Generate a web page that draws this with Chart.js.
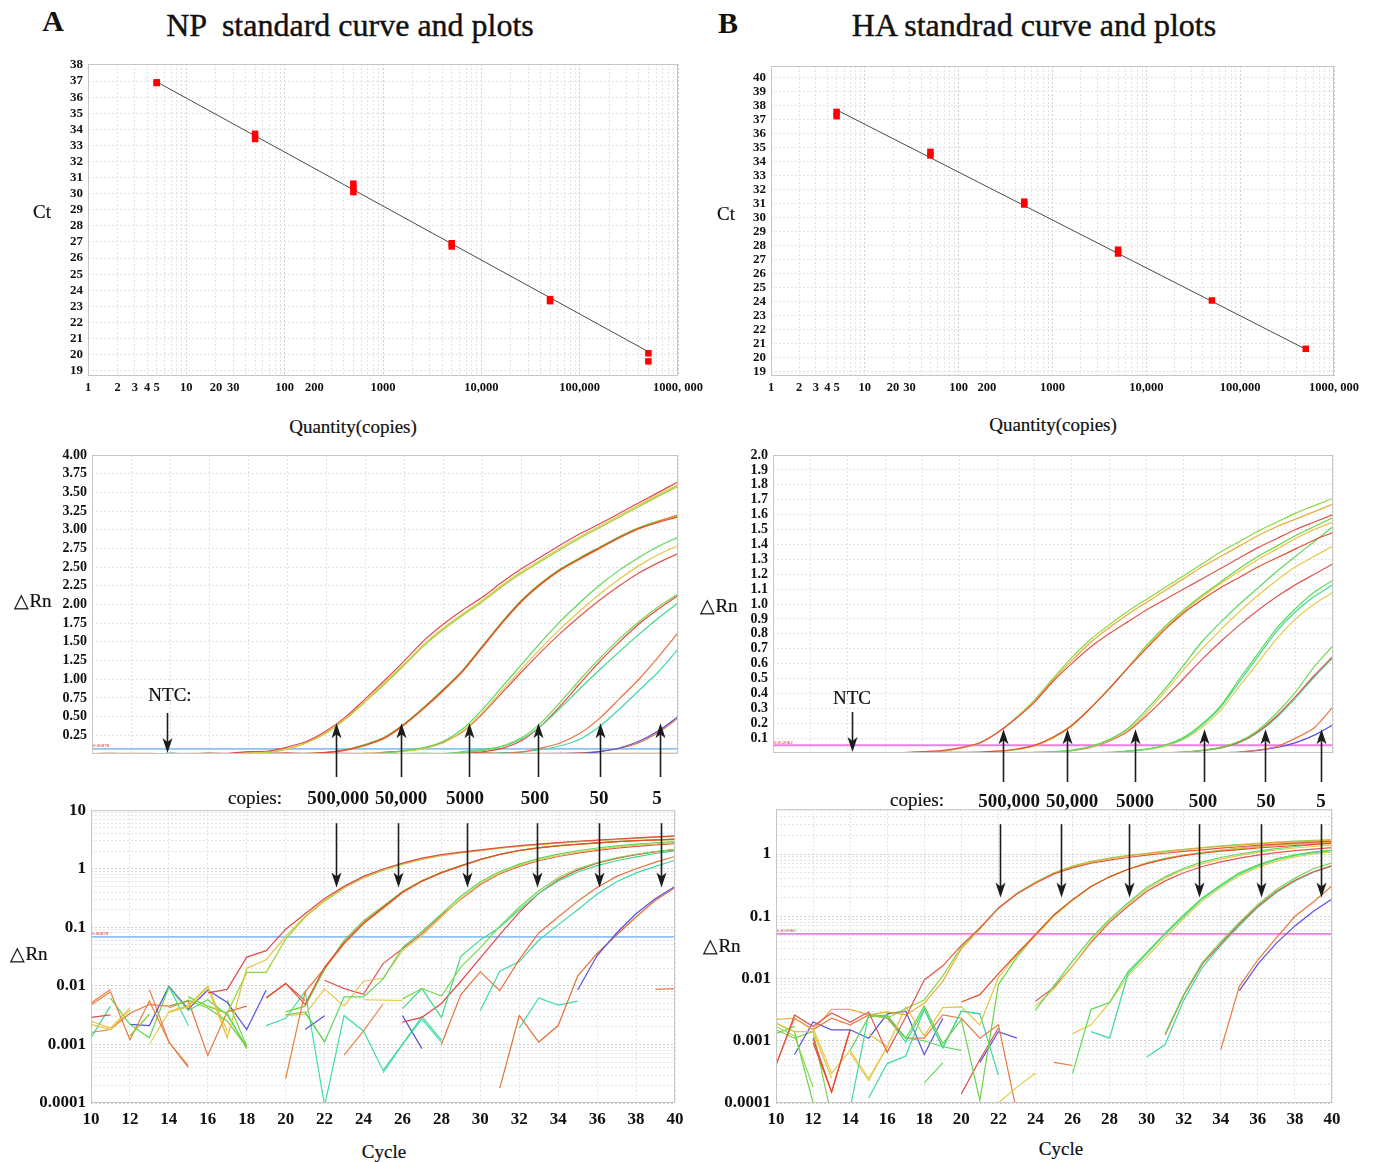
<!DOCTYPE html>
<html>
<head>
<meta charset="utf-8">
<script src="https://cdn.jsdelivr.net/npm/chart.js@4.4.1/dist/chart.umd.min.js"></script>
<style>
  html, body { margin: 0; padding: 0; background: #fff; }
  #page { position: relative; width: 1384px; height: 1162px; overflow: hidden; font-family: "Liberation Serif", "Times New Roman", serif; color: #111; }
  canvas { position: absolute; }
  .t { position: absolute; transform: translate(-50%, -50%); white-space: pre; line-height: 1; }
  .big { font-size: 32px; -webkit-text-stroke: 0.4px #111; }
  .letter { font-size: 30px; font-weight: bold; }
  .ax { font-size: 19px; -webkit-text-stroke: 0.2px #111; }
  .num { font-size: 19px; font-weight: bold; }
</style>
</head>
<body>
<div id="page">
  <canvas id="npStd"></canvas>
  <canvas id="haStd"></canvas>
  <canvas id="npLin"></canvas>
  <canvas id="haLin"></canvas>
  <canvas id="npLog"></canvas>
  <canvas id="haLog"></canvas>

  <div class="t letter" style="left:53px;top:21px">A</div>
  <div class="t big" style="left:350px;top:25px">NP  standard curve and plots</div>
  <div class="t letter" style="left:728px;top:23px">B</div>
  <div class="t big" style="left:1034px;top:25px">HA standrad curve and plots</div>

  <div class="t ax" style="left:42px;top:211px">Ct</div>
  <div class="t ax" style="left:353px;top:426px">Quantity(copies)</div>
  <div class="t ax" style="left:726px;top:213px">Ct</div>
  <div class="t ax" style="left:1053px;top:424px">Quantity(copies)</div>

  <div class="t ax" style="left:33px;top:600px">△Rn</div>
  <div class="t ax" style="left:719px;top:605px">△Rn</div>
  <div class="t ax" style="left:29px;top:953px">△Rn</div>
  <div class="t ax" style="left:722px;top:945px">△Rn</div>
  <div class="t ax" style="left:384px;top:1151px">Cycle</div>
  <div class="t ax" style="left:1061px;top:1148px">Cycle</div>

  <div class="t ax" style="left:170px;top:694px">NTC:</div>
  <div class="t ax" style="left:852px;top:697px">NTC</div>

  <div class="t ax" style="left:255px;top:797px">copies:</div>
  <div class="t ax" style="left:917px;top:799px">copies:</div>
  <div id="npCopies"></div>
  <div id="haCopies"></div>
</div>
<script>
const FONT = '"Liberation Serif", "Times New Roman", serif'
const _ = null

// ---- standard curves ----
const npQty = [5, 5, 50, 50, 500, 500, 500, 5000, 5000, 50000, 50000, 500000, 500000]
const npCt = [36.92, 36.88, 33.72, 33.4, 30.62, 30.35, 30.1, 26.92, 26.72, 23.45, 23.32, 20.08, 19.58]
const npFitQty = [5, 500000]
const npFitCt = [36.95, 20.18]

const haQty = [5, 5, 50, 50, 500, 500, 5000, 5000, 50000, 500000]
const haCt = [37.55, 37.25, 34.7, 34.45, 31.15, 30.95, 27.72, 27.45, 24.1, 20.65]
const haFitQty = [5, 500000]
const haFitCt = [37.7, 20.62]

const qtyTickValues = [1, 2, 3, 4, 5, 10, 20, 30, 100, 200, 1000, 10000, 100000, 1000000]
const qtyTickLabels = ['1', '2', '3', '4', '5', '10', '20', '30', '100', '200', '1000', '10,000', '100,000', '1000, 000']
const npCtTicks = [19, 20, 21, 22, 23, 24, 25, 26, 27, 28, 29, 30, 31, 32, 33, 34, 35, 36, 37, 38]
const haCtTicks = [19, 20, 21, 22, 23, 24, 25, 26, 27, 28, 29, 30, 31, 32, 33, 34, 35, 36, 37, 38, 39, 40]

// ---- amplification plots ----
const cycles = [10, 11, 12, 13, 14, 15, 16, 17, 18, 19, 20, 21, 22, 23, 24, 25, 26, 27, 28, 29, 30, 31, 32, 33, 34, 35, 36, 37, 38, 39, 40]
const npRnTicks = [0.25, 0.5, 0.75, 1, 1.25, 1.5, 1.75, 2, 2.25, 2.5, 2.75, 3, 3.25, 3.5, 3.75, 4]
const haRnTicks = [0.1, 0.2, 0.3, 0.4, 0.5, 0.6, 0.7, 0.8, 0.9, 1, 1.1, 1.2, 1.3, 1.4, 1.5, 1.6, 1.7, 1.8, 1.9, 2]
const logTickValues = [0.0001, 0.001, 0.01, 0.1, 1, 10]
const logTickLabels = ['0.0001', '0.001', '0.01', '0.1', '1', '10']

const copyLabels = ['500,000', '50,000', '5000', '500', '50', '5']
const npThreshold = 0.06878
const haThreshold = 0.052062
const npArrowCycles = [22.5, 25.83, 29.3, 32.84, 36.0, 39.08]
const haArrowCycles = [22.3, 25.76, 29.37, 33.09, 36.36, 39.37]
const npLogArrowCycles = [22.56, 25.75, 29.3, 32.9, 36.1, 39.3]
const haLogArrowCycles = [22.07, 25.36, 29.07, 32.8, 36.15, 39.38]
const npNtcCycle = 13.84
const haNtcCycle = 14.23

// NP, one array per well, cycles 10..40 (null = no value on log scale)
const npR1 = [.0029, .0032, _, _, _, _, .0076, .0087, .031, .04,
  .093, .17, .31, .5, .74, .99, 1.25, 1.52, 1.74, 1.93,
  2.1, 2.3, 2.48, 2.64, 2.8, 2.95, 3.08, 3.22, 3.36, 3.5, 3.64]
const npY1 = [.0022, .0018, .0039, _, .0036, .0044, .0095, .0013, .02, .028,
  .07, .155, .29, .48, .71, .96, 1.21, 1.47, 1.69, 1.88,
  2.06, 2.26, 2.44, 2.6, 2.76, 2.91, 3.05, 3.19, 3.33, 3.47, 3.6]
const npG1 = [_, _, .0014, .0033, _, .0066, .0045, .0034, .017, .017,
  .063, .15, .28, .47, .7, .94, 1.19, 1.45, 1.67, 1.86,
  2.04, 2.24, 2.42, 2.58, 2.74, 2.89, 3.03, 3.17, 3.31, 3.45, 3.58]
const npR2 = [_, _, _, _, _, _, _, _, _, .0062,
  .011, .0048, .021, .055, .12, .22, .4, .62, .86, 1.12,
  1.44, 1.76, 2.05, 2.28, 2.47, 2.62, 2.76, 2.9, 3.02, 3.1, 3.17]
const npO2 = [.0047, .0079, .0012, .0055, .0011, .0004, _, _, _, _,
  .00026, .0079, .02, .052, .115, .21, .39, .61, .85, 1.11,
  1.43, 1.75, 2.04, 2.27, 2.46, 2.61, 2.75, 2.89, 3.01, 3.11, 3.2]
const npG2 = [_, _, .0036, _, .0042, .0057, .0042, .0025, .0009, _,
  .0036, .0045, .019, .06, .13, .23, .41, .63, .87, 1.13,
  1.45, 1.77, 2.06, 2.29, 2.48, 2.63, 2.77, 2.91, 3.03, 3.12, 3.18]
const npG3 = [_, .0062, .0022, .0013, .0095, .0038, .0058, .0032, .0009, _,
  _, .0035, .0011, .0065, .0065, .013, .045, .085, .17, .34,
  .6, .9, 1.2, 1.5, 1.78, 2.03, 2.26, 2.46, 2.63, 2.78, 2.9]
const npY3 = [.0025, .0019, .0042, _, .0035, .0045, .0098, .0017, _, _,
  .0031, .0033, .0088, .0045, .012, .0135, .04, .072, .15, .31,
  .56, .85, 1.14, 1.42, 1.68, 1.92, 2.14, 2.34, 2.52, 2.67, 2.79]
const npR3 = [_, _, _, _, _, _, _, _, _, _,
  _, _, .0125, .009, .0072, .024, .043, .078, .16, .3,
  .54, .82, 1.1, 1.37, 1.62, 1.85, 2.06, 2.25, 2.42, 2.56, 2.68]
const npG4 = [_, _, _, _, _, .0065, .0045, .0034, .00084, _,
  _, _, _, _, _, _, .006, .009, .0067, .021,
  .045, .105, .22, .42, .7, 1.0, 1.28, 1.54, 1.77, 1.97, 2.14]
const npT4 = [.0013, .0045, _, _, _, _, _, _, _, _,
  _, _, _, _, _, _, .0041, .009, .0029, .032,
  .061, .1, .2, .38, .62, .88, 1.13, 1.37, 1.6, 1.82, 2.02]
const npR4 = [_, _, _, _, _, _, _, _, _, _,
  _, _, _, _, _, _, .0024, .0029, .005, .012,
  .03, .075, .18, .38, .65, .95, 1.24, 1.5, 1.74, 1.94, 2.12]
const npO5 = [.0016, .0018, .0034, .0048, .0045, .0055, .00065, .0036, .0045, _,
  _, _, _, _, _, _, _, _, .001, .0071,
  .0174, .0083, .028, .08, .15, .28, .48, .74, 1.0, 1.3, 1.62]
const npT5 = [_, _, _, _, _, _, _, _, _, _,
  _, _, _, _, _, .00033, .001, .0027, .0011, _,
  .0038, .0178, .026, .06, .11, .2, .37, .6, .85, 1.1, 1.4]
const npB6 = [_, _, .0022, .0021, .0098, .004, .0085, .0052, .0018, .0085,
  _, .0018, .0031, _, _, _, .0031, .00085, _, _,
  _, _, _, _, _, .0085, .033, .08, .17, .31, .5]
const npO6 = [_, _, _, _, _, _, _, _, _, _,
  _, _, _, _, _, _, _, _, _, _,
  _, .00018, .0031, .0011, .0021, .0147, .036, .074, .15, .29, .48]
const npN1 = [.0051, .0087, _, .0087, .0011, .00043, _, _, _, _,
  _, _, _, .00066, .0017, .0049, _, _, _, _,
  _, _, _, _, _, _, _, _, _, .0087, .009]
const npN2 = [_, _, _, _, .0098, .0021, _, _, _, .0021,
  .0028, .0081, .00009, .0031, .0017, .00036, .001, .003, .0012, _,
  _, _, .0019, .0062, .0047, .0055, _, _, _, _, _]
const npN3 = [_, _, _, .001, .0036, .0047, .0098, .0013, _, _,
  _, _, _, _, .0058, .0057, .0056, _, _, _,
  _, _, _, _, _, _, _, _, _, _, _]
const npN4 = [_, _, .0014, .0033, _, _, _, .0058, .00093, _,
  .0032, .0036, .0011, _, _, _, _, _, _, _,
  _, _, _, _, _, _, _, _, _, _, _]
const npN5 = [_, _, _, _, _, _, _, _, _, .0063,
  .011, .0056, _, _, _, _, _, _, _, _,
  _, _, _, _, _, _, _, _, _, _, _]

// HA wells
const haR1 = [.0004, .0026, .0017, .0028, .002, .0029, .00065, .0024, .0095, .016,
  .034, .065, .135, .23, .34, .48, .6, .71, .8, .88,
  .96, 1.03, 1.1, 1.17, 1.24, 1.31, 1.38, 1.44, 1.5, 1.55, 1.6]
const haO1 = [.0022, .0023, .0015, .0032, .0032, .0026, .0029, .0026, .004, .009,
  .03, .062, .135, .23, .345, .49, .62, .74, .84, .93,
  1.01, 1.09, 1.17, 1.25, 1.32, 1.39, 1.46, 1.52, 1.57, 1.62, 1.67]
const haG1 = [.0017, .0012, .00018, _, _, .0026, .0023, .0033, .0045, .011,
  .032, .065, .135, .235, .355, .5, .64, .76, .86, .95,
  1.03, 1.11, 1.19, 1.27, 1.35, 1.42, 1.49, 1.55, 1.61, 1.66, 1.71]
const haR2 = [_, _, .0011, .00015, .0015, _, _, _, _, _,
  .0042, .0055, .012, .025, .051, .106, .185, .3, .43, .57,
  .7, .83, .94, 1.03, 1.11, 1.18, 1.25, 1.31, 1.37, 1.43, 1.48]
const haY2 = [.0019, .0014, .0014, .00025, _, .0013, .0008, .0035, .0012, .0034,
  .0035, .0018, .0105, .024, .049, .1, .18, .3, .43, .57,
  .71, .84, .95, 1.05, 1.14, 1.22, 1.3, 1.37, 1.44, 1.5, 1.55]
const haG2 = [.0019, .0014, .0001, _, _, .0026, .0025, .0011, .0036, .0009,
  .0022, .00011, .008, .022, .05, .105, .185, .3, .43, .57,
  .72, .85, .96, 1.06, 1.15, 1.24, 1.32, 1.39, 1.46, 1.52, 1.58]
const haG3 = [.0013, .0017, _, _, .0007, .0024, .0026, .0011, .001, .0008,
  .0007, _, _, _, .0031, .0077, .019, .044, .09, .165,
  .29, .43, .59, .75, .88, 1.0, 1.11, 1.22, 1.32, 1.42, 1.52]
const haY3 = [_, _, .0016, .0003, .0007, .00025, .0008, _, _, _,
  _, _, _, _, .0036, .0068, .016, .04, .085, .155,
  .27, .41, .56, .7, .83, .95, 1.06, 1.16, 1.25, 1.32, 1.39]
const haR3 = [_, _, _, _, _, _, _, _, _, _,
  _, _, _, _, .0043, .0072, .016, .038, .08, .145,
  .25, .37, .5, .63, .75, .86, .96, 1.05, 1.13, 1.2, 1.27]
const haG4 = [_, _, _, _, _, _, _, _, .00021, .00044,
  _, _, _, _, _, _, .0003, .0032, .0041, .013,
  .026, .054, .106, .197, .32, .5, .67, .84, .97, 1.08, 1.16]
const haT4 = [_, _, _, _, _, .00012, .00043, .00057, .0032, .00077,
  .003, .0027, _, _, _, _, _, .0014, .0011, .012,
  .025, .052, .1, .19, .31, .48, .65, .82, .95, 1.05, 1.13]
const haY4 = [_, _, _, _, _, _, _, _, _, _,
  _, _, .0001, .00018, .0003, _, .0013, .0018, .0041, .011,
  .022, .046, .092, .175, .29, .45, .61, .77, .9, 1.0, 1.08]
const haG5 = [_, _, _, _, _, _, _, _, _, _,
  _, _, _, _, _, _, _, _, _, _,
  _, .0013, .0056, .018, .039, .08, .155, .27, .41, .58, .72]
const haR5 = [_, _, _, _, _, _, _, _, _, _,
  _, _, _, _, _, _, _, _, _, _,
  _, .00125, .0054, .017, .036, .075, .145, .25, .38, .52, .65]
const haT5 = [_, _, _, _, _, _, _, _, _, _,
  _, _, _, _, _, _, _, _, _, _,
  .00055, .00087, .0045, .015, .034, .07, .14, .24, .37, .51, .64]
const haO6 = [_, _, _, _, _, _, _, _, _, _,
  _, _, _, _, _, _, _, _, _, _,
  _, _, _, _, .00072, .0075, .02, .045, .1, .17, .31]
const haB6 = [_, _, _, _, _, _, _, _, _, _,
  _, _, _, _, _, _, _, _, _, _,
  _, _, _, _, _, .0064, .017, .037, .07, .12, .19]
const haN1 = [.00042, .0023, .0015, .0023, .0018, .0026, .0023, .0011, .0011, .0026,
  .0023, .0011, .0018, .00007, _, .00045, .0004, _, _, _,
  _, _, _, _, _, _, _, _, _, _, _]
const haN2 = [_, _, _, _, .00008, .0027, .0024, .00095, .0032, .00077,
  .003, .0027, .00028, _, _, _, _, _, _, _,
  _, _, _, _, _, _, _, _, _, _, _]
const haN3 = [_, .0006, .002, .0015, .0015, .0011, .0027, .003, .0006, .0023,
  _, .00045, .0014, .0011, _, _, _, _, _, _,
  _, _, _, _, _, _, _, _, _, _, _]
const haN4 = [_, _, .00093, .00015, .0015, _, _, _, _, _,
  .00014, .0005, .0016, _, _, _, _, _, _, _,
  _, _, _, _, _, _, _, _, _, _, _]
const haN5 = [.0015, .0011, .0014, .00006, _, _, _, _, _, _,
  _, _, _, _, _, _, _, _, _, _,
  _, _, _, _, _, _, _, _, _, _, _]
const haN6 = [_, _, _, _, .00064, .00023, .0008, _, _, _,
  _, _, _, _, _, _, _, _, _, _,
  _, _, _, _, _, _, _, _, _, _, _]

const npCurves = [
  { data: npR1, color: '#e34a4f' }, { data: npY1, color: '#e4c542' }, { data: npG1, color: '#93d53c' },
  { data: npR2, color: '#dd4f2a' }, { data: npO2, color: '#ea7b3a' }, { data: npG2, color: '#74cf3e' },
  { data: npG3, color: '#5cd85a' }, { data: npY3, color: '#e7c64b' }, { data: npR3, color: '#e05454' },
  { data: npG4, color: '#7ad64a' }, { data: npT4, color: '#3fd98a' }, { data: npR4, color: '#e04a46' },
  { data: npO5, color: '#e8723e' }, { data: npT5, color: '#3ed9a6' },
  { data: npB6, color: '#5a4fe0' }, { data: npO6, color: '#e07036' },
  { data: npN1, color: '#e8804a' }, { data: npN2, color: '#3fdea2' }, { data: npN3, color: '#e3d150' },
  { data: npN4, color: '#7dd34c' }, { data: npN5, color: '#e24c4c' }
]
const haCurves = [
  { data: haR1, color: '#e0564c' }, { data: haO1, color: '#e8ac3c' }, { data: haG1, color: '#88d840' },
  { data: haR2, color: '#e04e2c' }, { data: haY2, color: '#e6c43e' }, { data: haG2, color: '#6cd448' },
  { data: haG3, color: '#5ed860' }, { data: haY3, color: '#e8ca48' }, { data: haR3, color: '#e05858' },
  { data: haG4, color: '#5cdc58' }, { data: haT4, color: '#40d898' }, { data: haY4, color: '#e2cc4c' },
  { data: haG5, color: '#72d850' }, { data: haR5, color: '#e05248' }, { data: haT5, color: '#44d8a8' },
  { data: haO6, color: '#e8783c' }, { data: haB6, color: '#5a50e0' },
  { data: haN1, color: '#e87a40' }, { data: haN2, color: '#3cd8a0' }, { data: haN3, color: '#5a50e0' },
  { data: haN4, color: '#e05048' }, { data: haN5, color: '#7cd44c' }, { data: haN6, color: '#e2cc4c' }
]

// ---- layout helpers ----
const PAD_L = 70, PAD_T = 15, PAD_R = 40

const placeCanvas = (id, area, xH) => {
  const cv = document.getElementById(id)
  const w = area.r - area.l + PAD_L + PAD_R
  const h = area.b - area.t + PAD_T + xH
  cv.width = w
  cv.height = h
  cv.style.left = (area.l - PAD_L) + 'px'
  cv.style.top = (area.t - PAD_T) + 'px'
  cv.style.width = w + 'px'
  cv.style.height = h + 'px'
  return { cv, left: area.l - PAD_L, top: area.t - PAD_T }
}

const logGrid = (lo, hi) => {
  const out = []
  for (let e = Math.floor(Math.log10(lo)); e <= Math.ceil(Math.log10(hi)); e++) {
    for (let m = 1; m < 10; m++) {
      const v = +(m * Math.pow(10, e)).toPrecision(6)
      if (v >= lo * 0.9999 && v <= hi * 1.0001) out.push(v)
    }
  }
  return out
}
const isDecade = (v) => Math.abs(Math.log10(v) - Math.round(Math.log10(v))) < 1e-9

const framePlugin = {
  id: 'frame',
  afterDatasetsDraw(chart) {
    const { ctx, chartArea: a } = chart
    ctx.save()
    ctx.strokeStyle = '#c6c6c6'
    ctx.lineWidth = 1
    ctx.strokeRect(a.left + 0.5, a.top + 0.5, a.right - a.left - 1, a.bottom - a.top - 1)
    ctx.restore()
  }
}

const thrLabelPlugin = {
  id: 'thrLabel',
  afterDatasetsDraw(chart, args, opts) {
    if (!opts.text) return
    const { ctx, chartArea: a, scales: { y } } = chart
    ctx.save()
    ctx.fillStyle = '#e02020'
    ctx.font = '5px ' + FONT
    ctx.textBaseline = 'bottom'
    ctx.fillText(opts.text, a.left + 1, y.getPixelForValue(opts.value) - 0.5)
    ctx.restore()
  }
}

const arrowPlugin = {
  id: 'arrows',
  afterDraw(chart, args, opts) {
    if (!opts.cycles) return
    const { ctx, chartArea: a, scales: { x, y } } = chart
    const drawArrow = (px, y0, y1) => {
      const dir = Math.sign(y1 - y0)
      ctx.beginPath()
      ctx.moveTo(px, y0)
      ctx.lineTo(px, y1 - dir * 10)
      ctx.stroke()
      ctx.beginPath()
      ctx.moveTo(px, y1)
      ctx.lineTo(px - 5, y1 - dir * 15)
      ctx.lineTo(px, y1 - dir * 11)
      ctx.lineTo(px + 5, y1 - dir * 15)
      ctx.closePath()
      ctx.fill()
    }
    ctx.save()
    ctx.strokeStyle = '#1c1c1c'
    ctx.fillStyle = '#1c1c1c'
    ctx.lineWidth = 1.6
    const tipY = y.getPixelForValue(opts.tip)
    opts.cycles.forEach(c => {
      const px = Math.round(x.getPixelForValue(c)) + 0.5
      const baseY = opts.dir === 'up' ? a.bottom + opts.offset : a.top + opts.offset
      drawArrow(px, baseY, tipY)
    })
    if (opts.ntc) {
      const px = Math.round(x.getPixelForValue(opts.ntc)) + 0.5
      drawArrow(px, a.bottom - 41, a.bottom - 1)
    }
    ctx.restore()
  }
}

const baseOptions = (plugins) => ({
  responsive: false,
  animation: false,
  events: [],
  layout: { padding: { top: PAD_T, right: PAD_R, left: 0, bottom: 0 } },
  plugins: Object.assign({ legend: { display: false }, tooltip: { enabled: false } }, plugins)
})

const tickFont = (size) => ({ family: FONT, size, weight: 'bold' })
const GRID_MINOR = '#e2e2e2'
const GRID_MAJOR = '#cfcfcf'

// ---- standard curve charts ----
function standardChart(id, area, qty, ct, fitQty, fitCt, ctTicks, yMin, yMax) {
  const { cv } = placeCanvas(id, area, 26)
  const qtyGrid = logGrid(1, 1000000)
  return new Chart(cv, {
    type: 'scatter',
    data: {
      datasets: [
        {
          data: qty.map((q, i) => ({ x: q, y: ct[i] })),
          pointStyle: 'rect', pointRadius: 4.6, backgroundColor: '#ff0000', borderColor: '#ff0000', borderWidth: 0
        },
        {
          type: 'line',
          data: fitQty.map((q, i) => ({ x: q, y: fitCt[i] })),
          borderColor: '#4a4a4a', borderWidth: 1, pointRadius: 0
        }
      ]
    },
    options: Object.assign(baseOptions({}), {
      scales: {
        x: {
          type: 'logarithmic', min: 1, max: 1000000,
          afterBuildTicks: (s) => { s.ticks = qtyGrid.map(v => ({ value: v })) },
          afterFit: (s) => { s.height = 26 },
          ticks: {
            autoSkip: false, maxRotation: 0, padding: 4, color: '#111', font: tickFont(12.5),
            callback: (v) => { const k = qtyTickValues.indexOf(v); return k < 0 ? '' : qtyTickLabels[k] }
          },
          grid: { color: (c) => (c.tick && isDecade(c.tick.value)) ? GRID_MAJOR : GRID_MINOR, drawTicks: false },
          border: { display: false, dash: [2, 2] }
        },
        y: {
          type: 'linear', min: yMin, max: yMax,
          afterBuildTicks: (s) => { s.ticks = ctTicks.map(v => ({ value: v })) },
          afterFit: (s) => { s.width = PAD_L },
          ticks: { autoSkip: false, padding: 5, color: '#111', font: tickFont(13) },
          grid: { color: GRID_MINOR, drawTicks: false },
          border: { display: false, dash: [2, 2] }
        }
      }
    }),
    plugins: [framePlugin]
  })
}

standardChart('npStd', { l: 88, t: 64, r: 678, b: 376 }, npQty, npCt, npFitQty, npFitCt, npCtTicks, 18.67, 38.06)
standardChart('haStd', { l: 771, t: 66, r: 1334, b: 376 }, haQty, haCt, haFitQty, haFitCt, haCtTicks, 18.71, 40.83)

// ---- amplification charts ----
function curveDatasets(curves, log) {
  return curves.map(c => ({
    data: cycles.map((cy, i) => ({ x: cy, y: c.data[i] })),
    borderColor: c.color, borderWidth: 1.2, pointRadius: 0, fill: false,
    tension: log ? 0 : 0.25, spanGaps: !log
  }))
}
function thresholdDataset(value, color) {
  return {
    data: [{ x: 10, y: value }, { x: 40, y: value }],
    borderColor: color, borderWidth: 1.8, pointRadius: 0, fill: false
  }
}

function linearChart(id, area, curves, rnTicks, yMax, decimals, thr, thrColor, arrowCycles, tip, offset, ntc) {
  const { cv } = placeCanvas(id, area, 45)
  return new Chart(cv, {
    type: 'line',
    data: { datasets: curveDatasets(curves, false).concat([thresholdDataset(thr, thrColor)]) },
    options: Object.assign(baseOptions({
      arrows: { cycles: arrowCycles, tip, dir: 'up', offset, ntc },
      thrLabel: { text: String(thr), value: thr }
    }), {
      scales: {
        x: {
          type: 'linear', min: 10, max: 40,
          afterFit: (s) => { s.height = 45 },
          ticks: { stepSize: 2, display: false },
          grid: { color: GRID_MINOR, drawTicks: false },
          border: { display: false, dash: [2, 2] }
        },
        y: {
          type: 'linear', min: 0, max: yMax,
          afterBuildTicks: (s) => { s.ticks = rnTicks.map(v => ({ value: v })) },
          afterFit: (s) => { s.width = PAD_L },
          ticks: { autoSkip: false, padding: 5, color: '#111', font: tickFont(14), callback: (v) => v.toFixed(decimals) },
          grid: { color: GRID_MINOR, drawTicks: false },
          border: { display: false, dash: [2, 2] }
        }
      }
    }),
    plugins: [framePlugin, thrLabelPlugin, arrowPlugin]
  })
}

function logChart(id, area, curves, yMax, thr, thrColor, arrowCycles, tip, offset) {
  const { cv } = placeCanvas(id, area, 30)
  const rnGrid = logGrid(0.0001, yMax)
  return new Chart(cv, {
    type: 'line',
    data: { datasets: curveDatasets(curves, true).concat([thresholdDataset(thr, thrColor)]) },
    options: Object.assign(baseOptions({
      arrows: { cycles: arrowCycles, tip, dir: 'down', offset },
      thrLabel: { text: String(thr), value: thr }
    }), {
      scales: {
        x: {
          type: 'linear', min: 10, max: 40,
          afterFit: (s) => { s.height = 30 },
          ticks: { stepSize: 2, padding: 6, color: '#111', font: tickFont(17) },
          grid: { color: GRID_MINOR, drawTicks: false },
          border: { display: false, dash: [2, 2] }
        },
        y: {
          type: 'logarithmic', min: 0.0001, max: yMax,
          afterBuildTicks: (s) => { s.ticks = rnGrid.map(v => ({ value: v })) },
          afterFit: (s) => { s.width = PAD_L },
          ticks: {
            autoSkip: false, padding: 5, color: '#111', font: tickFont(17),
            callback: (v) => { const k = logTickValues.indexOf(v); return k < 0 ? '' : logTickLabels[k] }
          },
          grid: { color: (c) => (c.tick && isDecade(c.tick.value)) ? GRID_MAJOR : GRID_MINOR, drawTicks: false },
          border: { display: false, dash: [2, 2] }
        }
      }
    }),
    plugins: [framePlugin, thrLabelPlugin, arrowPlugin]
  })
}

linearChart('npLin', { l: 92, t: 455, r: 678, b: 754 }, npCurves, npRnTicks, 4, 2, npThreshold, '#8cc2f2', npArrowCycles, 0.41, 23, npNtcCycle)
linearChart('haLin', { l: 773, t: 455, r: 1333, b: 753 }, haCurves, haRnTicks, 2, 1, haThreshold, '#f07ee0', haArrowCycles, 0.16, 29, haNtcCycle)
logChart('npLog', { l: 91, t: 810, r: 675, b: 1103 }, npCurves, 10, npThreshold, '#8cc2f2', npLogArrowCycles, 0.48, 13)
logChart('haLog', { l: 776, t: 809, r: 1332, b: 1103 }, haCurves, 5.25, haThreshold, '#f07ee0', haLogArrowCycles, 0.2, 15)

// copies labels under the linear plots
const npCopyX = [338, 401, 465, 535, 599, 657]
const haCopyX = [1009, 1072, 1135, 1203, 1266, 1321]
const addLabels = (hostId, xs, y) => {
  const host = document.getElementById(hostId)
  copyLabels.forEach((txt, i) => {
    const d = document.createElement('div')
    d.className = 't num'
    d.style.left = xs[i] + 'px'
    d.style.top = y + 'px'
    d.textContent = txt
    host.appendChild(d)
  })
}
addLabels('npCopies', npCopyX, 797)
addLabels('haCopies', haCopyX, 800)
</script>
</body>
</html>
